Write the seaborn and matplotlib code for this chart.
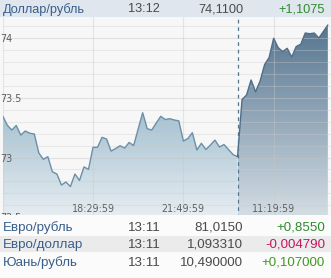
import numpy as np
import pandas as pd
import matplotlib
matplotlib.use("Agg")
import matplotlib.pyplot as plt
import seaborn as sns
from matplotlib.patches import Polygon, Rectangle
from matplotlib.colors import LinearSegmentedColormap
from matplotlib.ticker import FixedLocator

# ---------------- data ----------------
# USD/RUB, 10-minute points; first session (evening) then next morning session
evening = [73.347, 73.272, 73.230, 73.268, 73.188, 73.222, 73.203, 73.197, 73.038, 72.985,
           73.007, 72.881, 72.862, 72.770, 72.795, 72.757, 72.862, 72.808, 72.921, 72.901,
           73.085, 73.086, 73.169, 73.155, 73.054, 73.075, 73.099, 73.079, 73.126, 73.100,
           73.239, 73.375, 73.241, 73.230, 73.289, 73.345, 73.318, 73.325, 73.314, 73.307,
           73.138, 73.159, 73.208, 73.063, 73.119, 73.067, 73.105, 73.146, 73.088, 73.109,
           73.067, 73.025, 73.007]
morning = [73.007, 73.485, 73.523, 73.649, 73.550, 73.640, 73.778, 73.837, 73.998, 73.920,
           73.887, 73.914, 73.841, 73.929, 73.948, 74.042, 74.036, 74.042, 74.000, 74.054,
           74.109]
time_ticks = [20, 40, 60]
time_labels = ["18:29:59", "21:49:59", "11:19:59"]
y_major = [72.5, 73.0, 73.5, 74.0]
y_labels = ["72.5", "73", "73.5", "74"]

header = ["Доллар/рубль", "13:12", "74,1100", "+1,1075"]
row_names = ["Евро/рубль", "Евро/доллар", "Юань/рубль"]
row_times = ["13:11", "13:11", "13:11"]
row_values = ["81,0150", "1,093310", "10,490000"]
row_changes = ["+0,8550", "-0,004790", "+0,107000"]

# ---------------- build frame ----------------
x_even = list(range(len(evening)))
x_morn = list(range(len(evening) - 1, len(evening) - 1 + len(morning)))
df = pd.DataFrame({
    "idx": x_even + x_morn,
    "value": evening + morning,
    "session": ["evening"] * len(evening) + ["morning"] * len(morning),
})

W, H = 331, 278
fig = plt.figure(figsize=(W / 100, H / 100), dpi=100)
sns.set_style("white")
fig.patch.set_facecolor("#f7f7f7")

ax_top_px, ax_bot_px = 17, 218
ax_left_px = 2.7
ax = fig.add_axes([ax_left_px / W, (H - ax_bot_px) / H,
                   (W - ax_left_px) / W, (ax_bot_px - ax_top_px) / H])
ax.set_facecolor("#f7f7f7")

ylo, yhi = 72.494, 74.176
xlo, xhi = 0, 72.7


def gradient_fill(x, y, top_color, bottom_color, z):
    verts = [(x[0], ylo)] + list(zip(x, y)) + [(x[-1], ylo)]
    poly = Polygon(verts, closed=True, facecolor="none", edgecolor="none")
    ax.add_patch(poly)
    grad = np.linspace(0, 1, 256).reshape(-1, 1)
    cmap = LinearSegmentedColormap.from_list("g", [bottom_color, top_color])
    im = ax.imshow(grad, aspect="auto", cmap=cmap, origin="lower",
                   extent=[x[0], x[-1], ylo, max(y)], zorder=z, interpolation="bilinear")
    im.set_clip_path(poly)


gradient_fill(x_even, evening, "#a5c1d1", "#e8eef2", 1)
gradient_fill(x_morn, morning, "#557590", "#d5dee5", 1)

sns.lineplot(data=df, x="idx", y="value", hue="session",
             palette={"evening": "#6a90a9", "morning": "#4f6e88"},
             legend=False, lw=1.0, ax=ax, zorder=3, estimator=None, sort=False)

# day separator
ax.axvline(len(evening) - 1, color="#55778f", lw=0.9, ls=(0, (3, 3)), zorder=4)

ax.set_xlim(xlo, xhi)
ax.set_ylim(ylo, yhi)
ax.set_xlabel("")
ax.set_ylabel("")

ax.yaxis.set_major_locator(FixedLocator(y_major))
ax.set_yticklabels(y_labels)
ax.yaxis.set_minor_locator(FixedLocator(np.round(np.arange(72.5, 74.2, 0.1), 2)))
ax.xaxis.set_major_locator(FixedLocator(time_ticks))
ax.set_xticklabels(time_labels)
ax.xaxis.set_minor_locator(FixedLocator([0]))

ax.set_axisbelow(False)
ax.grid(True, which="major", axis="y", color="#c4c4c4", alpha=0.45, lw=0.8)
ax.grid(True, which="minor", axis="y", color="#cccccc", alpha=0.35, lw=0.8)
ax.grid(True, which="both", axis="x", color="#c8c8c8", alpha=0.4, lw=0.8)

for s in ax.spines.values():
    s.set_visible(False)

ax.tick_params(axis="both", which="both", length=0)
ax.tick_params(axis="x", pad=-10, labelsize=6.9, labelcolor="#5e5e5e")
ax.tick_params(axis="y", pad=1.5, labelsize=6.9, labelcolor="#5e5e5e")
for t in ax.get_yticklabels():
    t.set_horizontalalignment("left")
    t.set_fontfamily("DejaVu Sans")
for t in ax.get_xticklabels():
    t.set_fontfamily("DejaVu Sans")

# ---------------- header and table ----------------
def px_rect(x0, y0, x1, y1, color):
    fig.patches.append(Rectangle((x0 / W, 1 - y1 / H), (x1 - x0) / W, (y1 - y0) / H,
                                 transform=fig.transFigure, facecolor=color,
                                 edgecolor="none", zorder=5))

px_rect(0, 0, W, 17, "#dfe6ee")
px_rect(0, 215, W, H, "#fbfbfb")
px_rect(0, 235.7, W, 252.3, "#ebebeb")

FONT = ["Liberation Sans", "DejaVu Sans"]


def ptext(x, y, s, color, ha, size):
    fig.text(x / W, 1 - y / H, s, color=color, ha=ha, va="baseline",
             fontsize=size, family=FONT, zorder=6)


ptext(3, 12.5, header[0], "#3a5f8c", "left", 9.2)
ptext(128, 12.5, header[1], "#4a4a4a", "left", 9.2)
ptext(243, 12.5, header[2], "#4a4a4a", "right", 9.2)
ptext(325, 12.5, header[3], "#2e8b2e", "right", 9.2)

baselines = [231, 247.7, 265.8]
change_colors = ["#2e8b2e", "#c2185b", "#3f9b1d"]
for i in range(3):
    ptext(3, baselines[i], row_names[i], "#3a5f8c", "left", 9.6)
    ptext(128, baselines[i], row_times[i], "#4a4a4a", "left", 9.6)
    ptext(243, baselines[i], row_values[i], "#4a4a4a", "right", 9.6)
    ptext(325, baselines[i], row_changes[i], change_colors[i], "right", 9.6)

fig.savefig("out.png", dpi=100, facecolor=fig.get_facecolor())
